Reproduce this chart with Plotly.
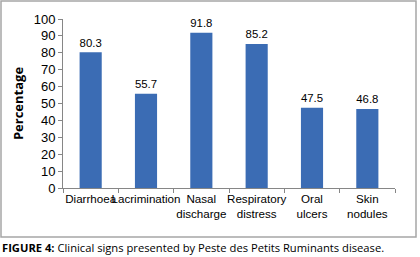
import plotly.graph_objects as go

categories = ["Diarrhoea", "Lacrimination", "Nasal<br>discharge", "Respiratory<br>distress", "Oral<br>ulcers", "Skin<br>nodules"]
values = [80.3, 55.7, 91.8, 85.2, 47.5, 46.8]
y_ticks = [0, 10, 20, 30, 40, 50, 60, 70, 80, 90, 100]
y_title = "Percentage"
caption_bold = "FIGURE 4:"
caption_rest = " Clinical signs presented by Peste des Petits Ruminants disease."

FONT = "Liberation Sans Narrow, Arial Narrow, Liberation Sans, sans-serif"
CAPFONT = "Open Sans, Liberation Sans, sans-serif"

fig = go.Figure(go.Bar(
    x=categories, y=values,
    marker=dict(color="#3B6CB4", line=dict(width=0)),
    width=0.4,
    text=[f"{v:.1f}" for v in values],
    textposition="outside",
    textfont=dict(size=13, color="#000000", family=FONT),
    cliponaxis=False,
))

fig.update_layout(
    width=420, height=257,
    margin=dict(l=63, r=25, t=19, b=69),
    paper_bgcolor="white", plot_bgcolor="white",
    showlegend=False,
    font=dict(family=FONT, color="#000000"),
    bargap=0.6,
)
fig.update_yaxes(
    range=[0, 100], tickvals=y_ticks, showgrid=False,
    showline=True, linecolor="#868686", linewidth=1,
    ticks="outside", ticklen=4, tickcolor="#868686",
    tickfont=dict(size=13, family=FONT),
    title=dict(text=f"<b>{y_title}</b>", font=dict(size=13, family=CAPFONT), standoff=7),
    zeroline=False, automargin=False,
)
fig.update_xaxes(
    showgrid=False, showline=True, linecolor="#868686", linewidth=1,
    ticks="outside", ticklen=4, tickcolor="#868686", tickson="boundaries",
    tickangle=0, automargin=False,
    tickfont=dict(size=11.6, family=FONT),
)

# outer frame
fig.add_shape(type="rect", xref="paper", yref="paper",
              x0=-62/332, x1=(416-63)/332, y0=-(237-188)/169, y1=1+18/169,
              line=dict(color="#A6A6A6", width=1.5), fillcolor="rgba(0,0,0,0)", layer="below")

fig.add_annotation(
    xref="paper", yref="paper", x=-63/332, y=-(247-188)/169, xanchor="left", yanchor="middle",
    text=f"<b>{caption_bold}</b>{caption_rest}", showarrow=False,
    font=dict(size=11.2, family=CAPFONT, color="#000000"),
)

fig.write_html("out.html", config={"displayModeBar": False},
               post_script="document.body.style.margin='0';document.body.style.padding='0';document.body.style.overflow='hidden';")
